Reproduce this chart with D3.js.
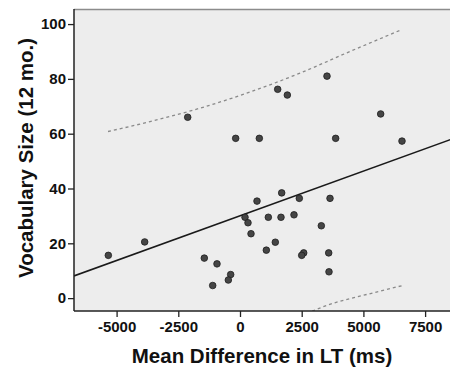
<!DOCTYPE html>
<html><head><meta charset="utf-8">
<script src="https://cdn.jsdelivr.net/npm/d3@7"></script>
<style>html,body{margin:0;padding:0;background:#fff;}svg{display:block;}</style>
</head><body>
<svg id="c" width="450" height="369"></svg>
<script>
// Data
const diffLT = [-2119, 3525, 1527, 1918, 5700, -175, 783, 3876, 6564,
  -5335, -3862, -1446, -932, -1106, -378, -473,
  689, 1689, 2403, 3647, 203, 324, 1148, 1661, 2188, 446, 3295,
  1431, 1067, 2581, 2500, 3594, 3606];
const vocab = [66, 81, 76.2, 74.1, 67.2, 58.3, 58.3, 58.3, 57.3,
  15.6, 20.5, 14.6, 12.5, 4.6, 8.6, 6.6,
  35.4, 38.4, 36.4, 36.4, 29.5, 27.5, 29.5, 29.5, 30.4, 23.5, 26.4,
  20.4, 17.5, 16.5, 15.6, 16.5, 9.6];
const fitLine = [[-6726, 8.1], [8914, 59.1]];
const upperBand = [[-5348, 60.8], [-3647, 64.4], [-1621, 69.3], [405, 75.2], [2431, 82.1], [4457, 90.0], [6560, 98.0]];
const lowerBand = [[2700, -5.6], [3800, -1.8], [4730, 0.4], [5650, 2.5], [6590, 4.6]];
const xTicks = [-5000, -2500, 0, 2500, 5000, 7500];
const yTicks = [0, 20, 40, 60, 80, 100];
const xTitle = "Mean Difference in LT (ms)";
const yTitle = "Vocabulary Size (12 mo.)";

const svg = d3.select("#c");
const L = 74, R = 460, T = 9, B = 311;
const x = d3.scaleLinear().domain([-6726, 8914]).range([L, R]);
const y = d3.scaleLinear().domain([-4.7, 105.5]).range([B, T]);

svg.append("defs").append("clipPath").attr("id", "clip")
  .append("rect").attr("x", L).attr("y", T).attr("width", R - L).attr("height", B - T);

svg.append("rect").attr("x", L).attr("y", T).attr("width", R - L).attr("height", B - T)
  .attr("fill", "#ededed");
svg.append("line").attr("x1", L).attr("x2", R).attr("y1", T + 0.5).attr("y2", T + 0.5)
  .attr("stroke", "#8c8c8c").attr("stroke-width", 1.5);

const g = svg.append("g").attr("clip-path", "url(#clip)");
const line = d3.line().x(d => x(d[0])).y(d => y(d[1]));
const curve = d3.line().x(d => x(d[0])).y(d => y(d[1])).curve(d3.curveMonotoneX);

g.append("path").attr("d", curve(upperBand)).attr("fill", "none")
  .attr("stroke", "#8a8a8a").attr("stroke-width", 1.3).attr("stroke-dasharray", "3,3");
g.append("path").attr("d", curve(lowerBand)).attr("fill", "none")
  .attr("stroke", "#8a8a8a").attr("stroke-width", 1.3).attr("stroke-dasharray", "3,3");
g.append("path").attr("d", line(fitLine)).attr("fill", "none")
  .attr("stroke", "#1a1a1a").attr("stroke-width", 1.5);

g.selectAll("circle").data(diffLT.map((d, i) => [d, vocab[i]])).join("circle")
  .attr("cx", d => x(d[0])).attr("cy", d => y(d[1])).attr("r", 3.3)
  .attr("fill", "#454545").attr("stroke", "#1e1e1e").attr("stroke-width", 0.8);

const fmt = d => String(d);
const yAxis = svg.append("g").attr("transform", `translate(${L},0)`)
  .call(d3.axisLeft(y).tickValues(yTicks).tickFormat(fmt).tickSize(6).tickPadding(2).tickSizeOuter(0));
const xAxis = svg.append("g").attr("transform", `translate(0,${B})`)
  .call(d3.axisBottom(x).tickValues(xTicks).tickFormat(fmt).tickSize(6).tickPadding(4).tickSizeOuter(0));
[yAxis, xAxis].forEach(a => {
  a.select(".domain").attr("stroke", "#222").attr("stroke-width", 1.5);
  a.selectAll(".tick line").attr("stroke", "#222").attr("stroke-width", 1.3);
  a.selectAll("text").attr("font-family", "Liberation Sans, Arial, sans-serif")
    .attr("font-weight", "bold").attr("font-size", 15).attr("fill", "#111");
});
yAxis.select(".domain").attr("d", `M0,${T}V${B}`);
xAxis.select(".domain").attr("d", `M${L},0H${R}`);

svg.append("text").attr("x", 262).attr("y", 363).attr("text-anchor", "middle")
  .attr("font-family", "Liberation Sans, Arial, sans-serif").attr("font-weight", "bold")
  .attr("font-size", 20.5).attr("fill", "#111").text(xTitle);
svg.append("text").attr("transform", "translate(33,158) rotate(-90)").attr("text-anchor", "middle")
  .attr("font-family", "Liberation Sans, Arial, sans-serif").attr("font-weight", "bold")
  .attr("font-size", 20.5).attr("fill", "#111").text(yTitle);
</script>
</body></html>
